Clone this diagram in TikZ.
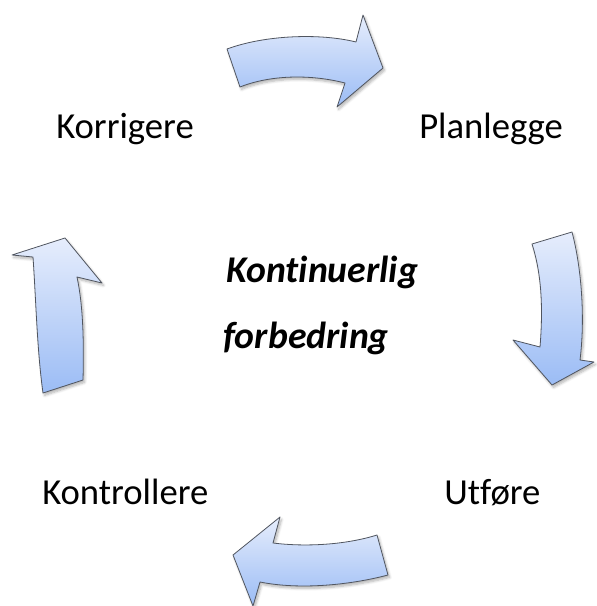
\documentclass[tikz,border=0pt]{standalone}
\usepackage{fontspec}
\setmainfont{Carlito}[RawFeature={-liga;-clig}]
\usetikzlibrary{shadows.blur}
\begin{document}
\begin{tikzpicture}[x=0.75pt,y=-0.75pt,
  cyclearrow/.style={draw={rgb,255:red,80;green,85;blue,95}, line width=0.6pt, line join=round,
    top color={rgb,255:red,230;green,237;blue,252},
    bottom color={rgb,255:red,155;green,188;blue,245},
    blur shadow={shadow xshift=1.2pt, shadow yshift=-1.8pt, shadow opacity=30, shadow blur steps=6}},
  phase/.style={inner sep=0pt, anchor=base west, font=\fontsize{27.5}{32}\selectfont},
  centre/.style={inner sep=0pt, anchor=base west, font=\fontsize{28.3}{34}\selectfont\bfseries\itshape}]
\useasboundingbox (0,0) rectangle (596,606);

% top arrow: Korrigere -> Planlegge
\path[cyclearrow] (227,49) .. controls (265,35) and (320,33) .. (356,42)
  -- (363,15) -- (383,68) -- (337,107) -- (345,83)
  .. controls (310,74) and (270,75) .. (240,87) -- cycle;

% right arrow: Planlegge -> Utfore
\path[cyclearrow] (532,244) -- (572,232)
  .. controls (582,270) and (585,320) .. (580,360)
  -- (594,362) -- (552,385) -- (513,340) -- (540,347)
  .. controls (543,310) and (542,275) .. (532,244) -- cycle;

% bottom arrow: Utfore -> Kontrollere
\path[cyclearrow] (377,535) -- (388,575)
  .. controls (350,585) and (300,590) .. (260,582)
  -- (253,606) -- (233,555) -- (280,517) -- (273,543)
  .. controls (305,547) and (345,545) .. (377,535) -- cycle;

% left arrow: Kontrollere -> Korrigere
\path[cyclearrow] (43,393) -- (83,380)
  .. controls (84,340) and (83,305) .. (77,277)
  -- (102,283) -- (65,238) -- (12,255) -- (33,257)
  .. controls (36,300) and (37,350) .. (43,393) -- cycle;

% phase labels
\node[phase] (korr) at (56,138) {Korrigere};
\node[phase] (plan) at (419,138) {Planlegge};
\node[phase] (kontr) at (42,504) {Kontrollere};
\node[phase] (utf) at (444,504) {Utføre};

% centre caption
\node[centre] (kont) at (226,282) {Kontinuerlig};
\node[centre] (forb) at (223,348) {forbedring};
\end{tikzpicture}
\end{document}
